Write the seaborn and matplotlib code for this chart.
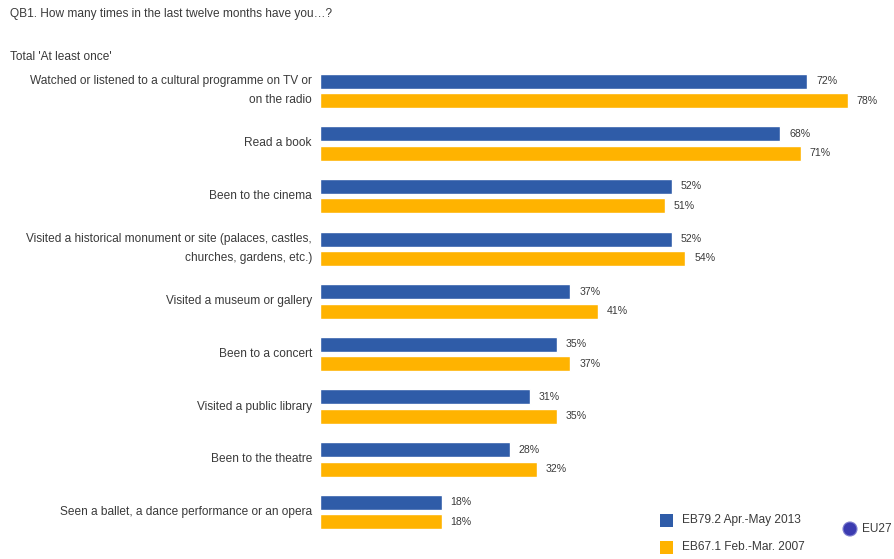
import matplotlib
matplotlib.use("Agg")
import matplotlib.pyplot as plt
from matplotlib.patches import Rectangle, Ellipse
import seaborn as sns
import pandas as pd

categories = [
    "Watched or listened to a cultural programme on TV or\non the radio",
    "Read a book",
    "Been to the cinema",
    "Visited a historical monument or site (palaces, castles,\nchurches, gardens, etc.)",
    "Visited a museum or gallery",
    "Been to a concert",
    "Visited a public library",
    "Been to the theatre",
    "Seen a ballet, a dance performance or an opera",
]
series_names = ["EB79.2 Apr.-May 2013", "EB67.1 Feb.-Mar. 2007"]
values_2013 = [72, 68, 52, 52, 37, 35, 31, 28, 18]
values_2007 = [78, 71, 51, 54, 41, 37, 35, 32, 18]
colors = ["#2F5CA8", "#FFB300"]

sns.set_style("white")
plt.rcParams["font.family"] = ["Liberation Sans", "DejaVu Sans"]
txt = "#3a3a3a"

df = pd.DataFrame({
    "category": categories * 2,
    "value": values_2013 + values_2007,
    "series": [series_names[0]] * len(categories) + [series_names[1]] * len(categories),
})

fig = plt.figure(figsize=(8.94, 5.59), dpi=100)
ax = fig.add_axes([320 / 894, 1 - 543.6 / 559, 555 / 894, (543.6 - 59.2) / 559])
sns.barplot(data=df, y="category", x="value", hue="series", orient="h",
            palette=colors, width=0.74, gap=0.23, legend=False, ax=ax,
            errorbar=None, saturation=1)
ax.set_xlim(0, 82)
ax.set_ylim(8.6, -0.6)
ax.set_xlabel("")
ax.set_ylabel("")
ax.set_xticks([])
ax.set_yticks([])
for s in ax.spines.values():
    s.set_visible(False)

for i, cat in enumerate(categories):
    ax.text(-1.2, i, cat, ha="right", va="center", fontsize=8.6, color=txt,
            linespacing=1.75)
for p in ax.patches:
    w = p.get_width()
    if w <= 0:
        continue
    y = p.get_y() + p.get_height() / 2
    ax.text(w + 1.3, y, f"{int(round(w))}%", ha="left", va="center",
            fontsize=7.6, color=txt)

fig.text(10 / 894, 1 - 14 / 559, "QB1. How many times in the last twelve months have you…?",
         ha="left", va="center", fontsize=8.6, color=txt)
fig.text(10 / 894, 1 - 57 / 559, "Total 'At least once'",
         ha="left", va="center", fontsize=8.6, color=txt)

# legend
for k, (name, c) in enumerate(zip(series_names, colors)):
    yc = 520 + k * 27
    fig.patches.append(Rectangle((660 / 894, 1 - (yc + 6.5) / 559), 13 / 894, 13 / 559,
                                 transform=fig.transFigure, facecolor=c, edgecolor="none"))
    fig.text(682 / 894, 1 - yc / 559, name, ha="left", va="center", fontsize=8.6, color=txt)
fig.patches.append(Ellipse((850 / 894, 1 - 529 / 559), 14 / 894, 14 / 559,
                           transform=fig.transFigure, facecolor="#3b3bb0",
                           edgecolor="#8080d0", lw=0.8))
fig.text(862 / 894, 1 - 529 / 559, "EU27", ha="left", va="center", fontsize=8.6, color=txt)

fig.savefig("out.png", dpi=100)
